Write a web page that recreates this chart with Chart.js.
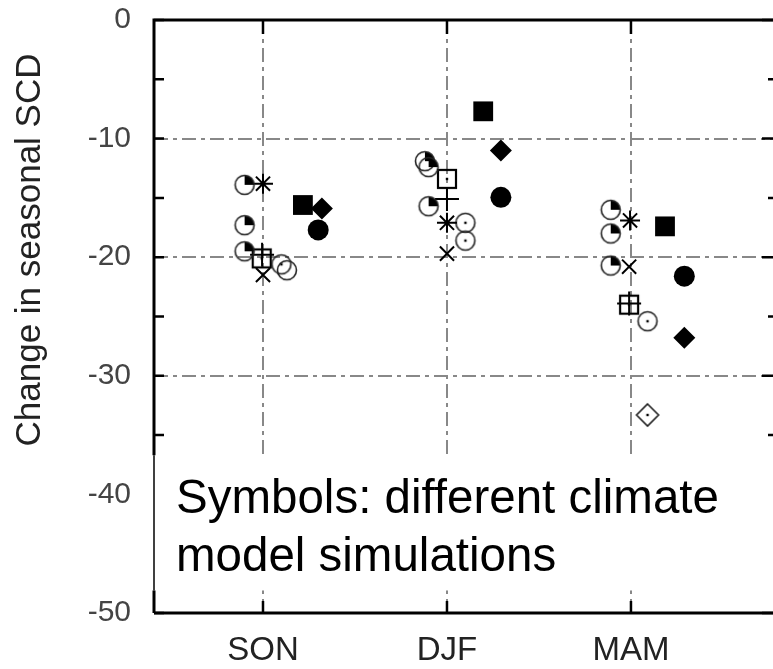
<!DOCTYPE html>
<html>
<head>
<meta charset="utf-8">
<script src="https://cdn.jsdelivr.net/npm/chart.js@4.4.1/dist/chart.umd.min.js"></script>
<style>
  html, body { margin: 0; padding: 0; background: #fff; overflow: hidden; }
  #wrap { width: 773px; height: 669px; }
</style>
</head>
<body>
<div id="wrap"><canvas id="scd-chart"></canvas></div>
<script>
const seasons = ['SON', 'DJF', 'MAM'];
const yTicks = [0, -10, -20, -30, -40, -50];

// x = season number (1 SON, 2 DJF, 3 MAM) plus the small sideways offset of each symbol
const pieX = [0.90, 0.90, 0.90, 1.88, 1.90, 1.90, 2.89, 2.89, 2.89];
const pieY = [-13.9, -17.3, -19.5, -11.9, -12.4, -15.7, -16.0, -18.0, -20.7];
const starX = [1.00, 2.00, 2.995];
const starY = [-13.8, -17.1, -16.9];
const filledSquareX = [1.217, 2.197, 3.185];
const filledSquareY = [-15.6, -7.7, -17.4];
const filledDiamondX = [1.32, 2.293, 3.29];
const filledDiamondY = [-15.9, -11.0, -26.8];
const filledCircleX = [1.30, 2.293, 3.29];
const filledCircleY = [-17.7, -14.95, -21.6];
const dotSquareX = [0.993, 2.00, 2.99];
const dotSquareY = [-20.1, -13.4, -24.0];
const plusX = [0.995, 2.00, 2.99];
const plusY = [-19.8, -15.1, -23.9];
const xMarkX = [1.00, 2.00, 2.99];
const xMarkY = [-21.5, -19.7, -20.8];
const dotCircleX = [1.10, 2.10, 2.10, 3.09];
const dotCircleY = [-20.6, -17.1, -18.6, -25.4];
const openCircleX = [1.13];
const openCircleY = [-21.1];
const dotDiamondX = [3.09];
const dotDiamondY = [-33.3];

const FONT = '"Liberation Sans", Arial, sans-serif';
const GRID = '#888';

function pts(xs, ys) {
  return xs.map((x, i) => ({ x: x, y: ys[i] }));
}

// small drawn symbols used as point styles
function symbol(kind) {
  const c = document.createElement('canvas');
  c.width = 28; c.height = 28;
  const g = c.getContext('2d');
  const m = 14;
  g.lineWidth = 1.6;
  g.strokeStyle = '#222';
  g.fillStyle = '#000';
  if (kind === 'pie' || kind === 'dotCircle' || kind === 'circle') {
    if (kind === 'pie') {
      g.beginPath(); g.moveTo(m, m); g.arc(m, m, 9.5, -Math.PI / 2, 0); g.closePath(); g.fill();
    }
    g.beginPath(); g.arc(m, m, 9.5, 0, 2 * Math.PI); g.stroke();
    if (kind === 'dotCircle') { g.fillRect(m - 1.2, m - 1.2, 2.4, 2.4); }
  } else if (kind === 'dotSquare') {
    g.lineWidth = 2.2; g.strokeStyle = '#000';
    g.strokeRect(m - 9, m - 9, 18, 18);
    g.fillRect(m - 1.2, m - 1.2, 2.4, 2.4);
  } else if (kind === 'dotDiamond') {
    g.beginPath();
    g.moveTo(m, m - 11); g.lineTo(m + 11, m); g.lineTo(m, m + 11); g.lineTo(m - 11, m); g.closePath();
    g.stroke();
    g.fillRect(m - 1.2, m - 1.2, 2.4, 2.4);
  }
  return c;
}

const framePlugin = {
  id: 'frame',
  beforeDatasetsDraw(chart) {
    const { ctx, chartArea: a, scales: { x, y } } = chart;
    ctx.save();
    ctx.strokeStyle = '#000';
    ctx.lineWidth = 3;
    ctx.beginPath();
    ctx.moveTo(a.left, a.bottom); ctx.lineTo(a.left, a.top); ctx.lineTo(a.right + 3, a.top);
    ctx.moveTo(a.left, a.bottom); ctx.lineTo(a.right + 3, a.bottom);
    ctx.stroke();
    ctx.lineWidth = 2.5;
    ctx.beginPath();
    for (let v = 0; v >= -50; v -= 5) {
      const py = y.getPixelForValue(v);
      ctx.moveTo(a.left, py); ctx.lineTo(a.left + 10, py);
      const len = v % 10 === 0 ? 11 : 5;
      ctx.moveTo(a.right, py); ctx.lineTo(a.right - len, py);
    }
    seasons.forEach((s, i) => {
      const px = x.getPixelForValue(i + 1);
      ctx.moveTo(px, a.top); ctx.lineTo(px, a.top + 14);
      ctx.moveTo(px, a.bottom); ctx.lineTo(px, a.bottom - 12);
    });
    ctx.stroke();
    ctx.restore();
  },
  afterDatasetsDraw(chart) {
    const { ctx, chartArea: a, scales: { y } } = chart;
    // white note box over the lower part of the plot
    const top = y.getPixelForValue(-36.7);
    const bottom = y.getPixelForValue(-48.1);
    ctx.save();
    ctx.fillStyle = '#fff';
    ctx.fillRect(a.left - 2, top, a.right - a.left + 4, bottom - top);
    ctx.strokeStyle = '#000';
    ctx.lineWidth = 1.5;
    ctx.beginPath();
    ctx.moveTo(a.left, top); ctx.lineTo(a.left, bottom);
    ctx.stroke();
    ctx.fillStyle = '#000';
    ctx.font = '47.5px ' + FONT;
    ctx.textBaseline = 'alphabetic';
    ctx.fillText('Symbols: different climate', a.left + 22, 513);
    ctx.fillText('model simulations', a.left + 22, 571);
    ctx.restore();
  },
  afterDraw(chart) {
    const { ctx } = chart;
    ctx.save();
    ctx.translate(30, 250);
    ctx.rotate(-Math.PI / 2);
    ctx.fillStyle = '#222';
    ctx.font = '35px ' + FONT;
    ctx.textAlign = 'center';
    ctx.textBaseline = 'middle';
    ctx.fillText('Change in seasonal SCD', 0, 0);
    ctx.restore();
  }
};

const black = '#000';

new Chart(document.getElementById('scd-chart'), {
  type: 'scatter',
  data: {
    datasets: [
      { label: 'pie', data: pts(pieX, pieY), pointStyle: symbol('pie') },
      { label: 'star', data: pts(starX, starY), pointStyle: 'star', pointRadius: 10, borderColor: black, borderWidth: 2 },
      { label: 'filled square', data: pts(filledSquareX, filledSquareY), pointStyle: 'rect', pointRadius: 14, backgroundColor: black, borderColor: black, borderWidth: 0 },
      { label: 'filled diamond', data: pts(filledDiamondX, filledDiamondY), pointStyle: 'rectRot', pointRadius: 11, backgroundColor: black, borderColor: black, borderWidth: 0 },
      { label: 'filled circle', data: pts(filledCircleX, filledCircleY), pointStyle: 'circle', pointRadius: 10.5, backgroundColor: black, borderColor: black, borderWidth: 0 },
      { label: 'square', data: pts(dotSquareX, dotSquareY), pointStyle: symbol('dotSquare') },
      { label: 'plus', data: pts(plusX, plusY), pointStyle: 'cross', pointRadius: 12, borderColor: black, borderWidth: 2 },
      { label: 'x', data: pts(xMarkX, xMarkY), pointStyle: 'crossRot', pointRadius: 10, borderColor: black, borderWidth: 2 },
      { label: 'dot circle', data: pts(dotCircleX, dotCircleY), pointStyle: symbol('dotCircle') },
      { label: 'open circle', data: pts(openCircleX, openCircleY), pointStyle: symbol('circle') },
      { label: 'dot diamond', data: pts(dotDiamondX, dotDiamondY), pointStyle: symbol('dotDiamond') }
    ]
  },
  options: {
    responsive: true,
    maintainAspectRatio: false,
    animation: false,
    layout: { autoPadding: false, padding: { top: 20, right: 0, left: 0, bottom: 0 } },
    plugins: { legend: { display: false }, tooltip: { enabled: false } },
    scales: {
      x: {
        type: 'linear',
        min: 0.4076,
        max: 3.772,
        afterBuildTicks: s => { s.ticks = seasons.map((_, i) => ({ value: i + 1 })); },
        afterFit: s => { s.height = 56; s.paddingLeft = 0; s.paddingRight = 0; },
        ticks: {
          callback: v => seasons[v - 1],
          font: { family: FONT, size: 33 },
          color: '#222',
          padding: 18,
          maxRotation: 0
        },
        grid: { color: GRID, lineWidth: 2, drawTicks: false },
        border: { display: false, dash: [14, 5, 4, 5] }
      },
      y: {
        min: -50,
        max: 0,
        afterBuildTicks: s => { s.ticks = yTicks.map(v => ({ value: v })); },
        afterFit: s => { s.width = 154; s.paddingTop = 0; s.paddingBottom = 0; },
        ticks: {
          font: { family: FONT, size: 30 },
          color: '#444',
          padding: 23
        },
        grid: {
          color: c => (c.tick && c.tick.value < 0 && c.tick.value > -50) ? GRID : 'rgba(0,0,0,0)',
          lineWidth: 2,
          drawTicks: false
        },
        border: { display: false, dash: [14, 5, 4, 5] }
      }
    }
  },
  plugins: [framePlugin]
});
</script>
</body>
</html>
